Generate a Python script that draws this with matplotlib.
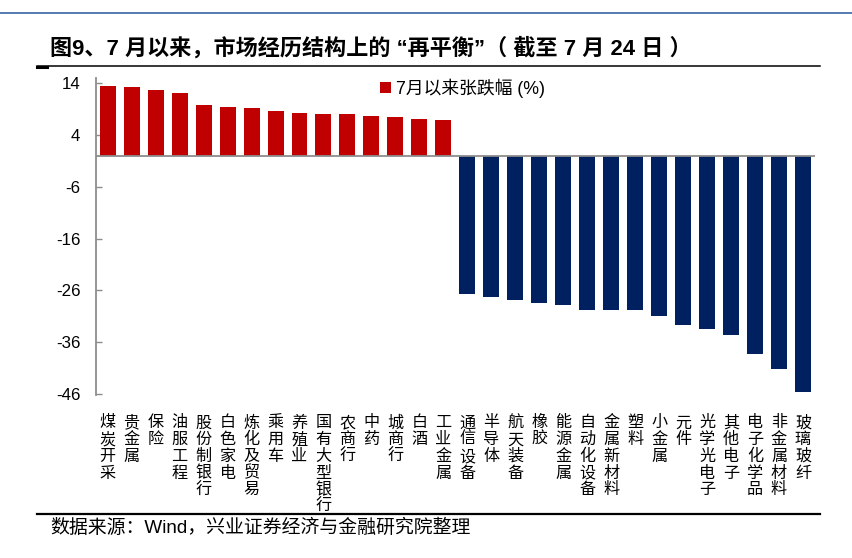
import matplotlib
matplotlib.use("Agg")
import matplotlib.pyplot as plt
from matplotlib.lines import Line2D
import numpy as np

categories = ['煤炭开采', '贵金属', '保险', '油服工程', '股份制银行', '白色家电', '炼化及贸易',
              '乘用车', '养殖业', '国有大型银行', '农商行', '中药', '城商行', '白酒', '工业金属',
              '通信设备', '半导体', '航天装备', '橡胶', '能源金属', '自动化设备', '金属新材料',
              '塑料', '小金属', '元件', '光学光电子', '其他电子', '电子化学品', '非金属材料', '玻璃玻纤']
values = [13.6, 13.3, 12.7, 12.2, 9.8, 9.4, 9.2, 8.7, 8.2, 8.1, 8.1, 7.8, 7.5, 7.2, 6.9,
          -26.7, -27.3, -27.8, -28.4, -28.9, -29.7, -29.7, -29.7, -31.0, -32.6, -33.5, -34.7,
          -38.2, -41.1, -45.7]
yticks = [14, 4, -6, -16, -26, -36, -46]
legend_label = '7月以来张跌幅 (%)'
title = '图9、7 月以来，市场经历结构上的 “再平衡”（ 截至 7 月 24 日 ）'
source = '数据来源：Wind，兴业证券经济与金融研究院整理'

RED = '#C00000'
NAVY = '#002060'
GRAY = '#8C8C8C'
CJK = ['Noto Sans CJK SC', 'DejaVu Sans']
MIX = ['Liberation Sans', 'Noto Sans CJK SC', 'DejaVu Sans']

plt.rcParams['font.family'] = CJK

fig = plt.figure(figsize=(8.52, 5.58), dpi=100)
W, H = 852, 558
ax = fig.add_axes([95.7 / W, 1 - 395 / H, (815 - 95.7) / W, (395 - 78.3) / H])

x = np.arange(len(categories))
vals = np.array(values)
pos = vals >= 0
b_red = ax.bar(x[pos], vals[pos], width=0.667, color=RED, label=legend_label, zorder=2)
ax.bar(x[~pos], vals[~pos], width=0.667, color=NAVY, zorder=2)
ax.axhline(0, color=GRAY, lw=1.3, zorder=3)

ax.set_xlim(-0.5, len(categories) - 0.5)
ax.set_ylim(-46.2, 15)
ax.set_yticks(yticks)
ax.set_yticklabels([str(t) for t in yticks], family=['Liberation Sans'], fontsize=12.2)
ax.tick_params(axis='y', direction='in', length=4.5, width=1, color=GRAY, pad=11)
ax.tick_params(axis='x', length=0, pad=14)
ax.set_xticks(x)
ax.set_xticklabels(['\n'.join(c) for c in categories], fontsize=11.6, linespacing=0.98)
for s in ['top', 'right', 'bottom']:
    ax.spines[s].set_visible(False)
ax.spines['left'].set_color(GRAY)
ax.spines['left'].set_linewidth(1.3)

leg = fig.legend(handles=[b_red], labels=[legend_label], loc='center left',
                 bbox_to_anchor=(380 / W, 1 - 88 / H), frameon=False,
                 handlelength=0.6, handleheight=0.6, handletextpad=0.3,
                 borderpad=0, borderaxespad=0, prop={'family': MIX, 'size': 12.8})

# decorations
fig.add_artist(Line2D([0, 1], [1 - 12.7 / H, 1 - 12.7 / H], color='#4472A8', lw=1.3))
fig.add_artist(Line2D([37 / W, 820 / W], [1 - 66 / H, 1 - 66 / H], color='black', lw=1.1))
fig.add_artist(Line2D([37 / W, 47 / W], [1 - 67 / H, 1 - 67 / H], color='black', lw=2.2))
fig.add_artist(Line2D([37 / W, 820 / W], [1 - 514 / H, 1 - 514 / H], color='black', lw=1.6))

fig.text(50 / W, 1 - 48 / H, title, fontsize=15.9, fontweight='bold', family=MIX,
         va='center', ha='left')
fig.text(50 / W, 1 - 528 / H, source, fontsize=13.6, family=MIX, va='center', ha='left')

fig.savefig('out.png', dpi=100)
